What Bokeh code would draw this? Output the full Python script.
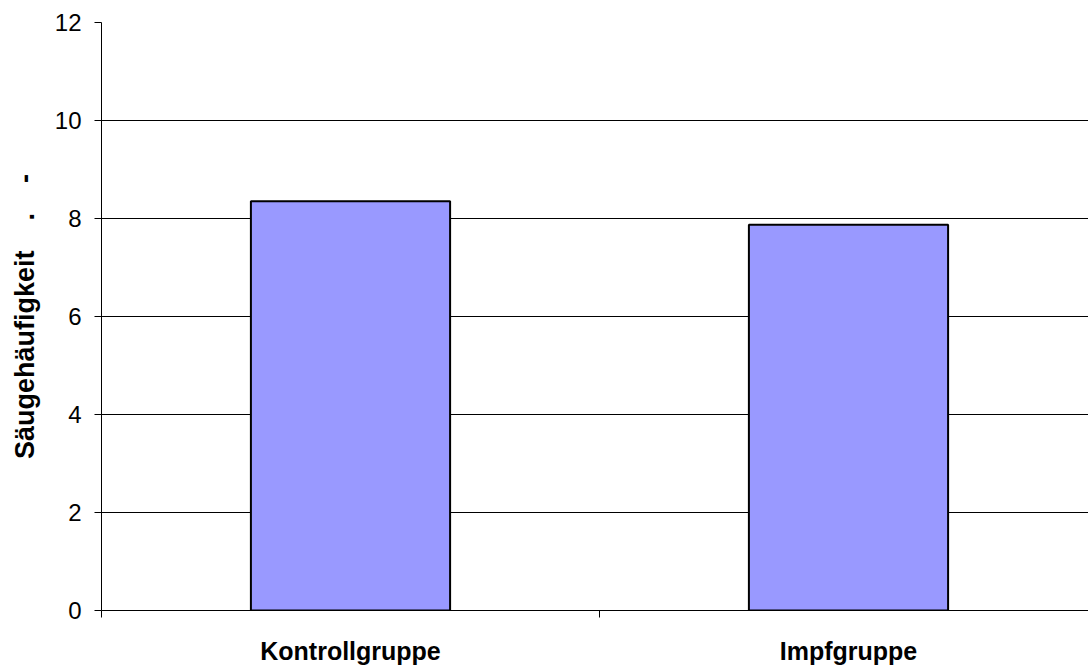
from bokeh.plotting import figure
from bokeh.models import Range1d, FixedTicker
from bokeh.embed import file_html
from bokeh.resources import INLINE

categories = ["Kontrollgruppe", "Impfgruppe"]
values = [8.35, 7.87]
y_ticks = [0, 2, 4, 6, 8, 10, 12]
y_label = "Säugehäufigkeit\u00a0\u00a0\u00a0\u00a0.\u00a0\u00a0\u00a0\u00a0-"

FONT = "Liberation Sans"
xs = [i + 0.5 for i in range(len(categories))]

p = figure(width=1088, height=669, output_backend="svg", toolbar_location=None,
           x_range=Range1d(0, 987 / 498), y_range=Range1d(0, 12),
           min_border_left=101, min_border_right=0, min_border_top=22, min_border_bottom=59)
p.outline_line_color = None
p.background_fill_color = "white"

p.vbar(x=xs, top=values, width=0.4, fill_color="#9999FF", line_color="black", line_width=2)

# axes
p.xaxis.ticker = FixedTicker(ticks=xs, minor_ticks=list(range(len(categories) + 1)))
p.xaxis.major_label_overrides = {x: c for x, c in zip(xs, categories)}
p.xaxis.major_tick_out = 0
p.xaxis.major_tick_in = 0
p.xaxis.minor_tick_out = 7
p.xaxis.minor_tick_in = 0
p.xaxis.minor_tick_line_color = "black"
p.xaxis.axis_line_color = "black"
p.xaxis.major_label_text_font = FONT
p.xaxis.major_label_text_font_style = "bold"
p.xaxis.major_label_text_font_size = "25px"
p.xaxis.major_label_text_color = "black"
p.xaxis.major_label_standoff = 19

p.yaxis.ticker = FixedTicker(ticks=y_ticks)
p.yaxis.minor_tick_line_color = None
p.yaxis.major_tick_out = 7
p.yaxis.major_tick_in = 0
p.yaxis.major_tick_line_color = "black"
p.yaxis.axis_line_color = "black"
p.yaxis.major_label_text_font = FONT
p.yaxis.major_label_text_font_size = "24px"
p.yaxis.major_label_text_color = "black"
p.yaxis.major_label_standoff = 13
p.yaxis.axis_label = y_label
p.yaxis.axis_label_text_font = FONT
p.yaxis.axis_label_text_font_style = "bold"
p.yaxis.axis_label_text_font_size = "27px"
p.yaxis.axis_label_text_color = "black"
p.yaxis.axis_label_standoff = 12

p.xgrid.grid_line_color = None
p.ygrid.ticker = FixedTicker(ticks=y_ticks[1:])
p.ygrid.grid_line_color = "black"
p.ygrid.grid_line_width = 1

open("out.html", "w").write(file_html(p, INLINE))
